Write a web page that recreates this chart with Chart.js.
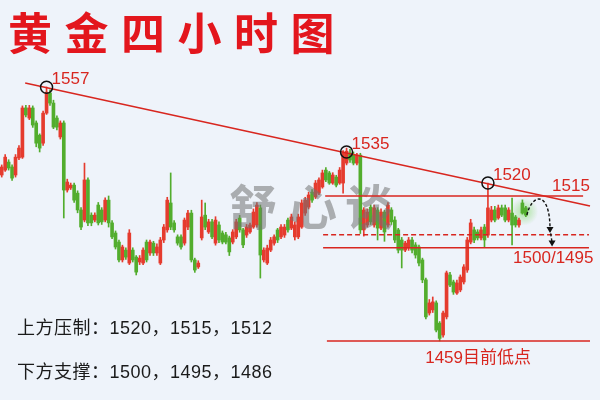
<!DOCTYPE html>
<html>
<head>
<meta charset="utf-8">
<script src="https://cdn.jsdelivr.net/npm/chart.js@4.4.1/dist/chart.umd.min.js"></script>
<style>
  html, body { margin: 0; padding: 0; background: #eef3fa; }
  #wrap { width: 600px; height: 400px; }
</style>
</head>
<body>
<div id="wrap"><canvas id="gold-chart" width="600" height="400"></canvas></div>
<script>
// 4-hour gold candles (price units)
const opens = [
  1523.1, 1525.0, 1528.1, 1526.2, 1523.1, 1529.7, 1530.0, 1549.0, 1545.1, 1549.0,
  1543.2, 1538.5, 1535.4, 1547.0, 1554.8, 1550.9, 1545.1, 1537.8, 1543.2, 1517.3,
  1518.1, 1519.2, 1516.1, 1509.6, 1505.7, 1521.2, 1507.6, 1505.7, 1511.5, 1509.6,
  1505.7, 1513.4, 1504.6, 1500.7, 1497.2, 1490.3, 1494.1, 1489.1, 1494.1, 1491.4,
  1489.5, 1489.1, 1497.2, 1493.0, 1496.8, 1493.0, 1489.1, 1498.0, 1501.9, 1512.3,
  1504.6, 1499.2, 1499.2, 1496.8, 1503.0, 1508.4, 1490.3, 1487.6, 1498.8, 1507.6,
  1501.1, 1505.0, 1496.8, 1503.8, 1500.7, 1500.0, 1498.8, 1497.2, 1499.2, 1506.5,
  1501.9, 1499.9, 1501.1, 1503.0, 1503.8, 1510.4, 1490.3, 1489.1, 1494.1, 1496.8,
  1501.9, 1499.2, 1499.9, 1505.7, 1502.6, 1499.2, 1499.2, 1503.0, 1508.4, 1510.7,
  1516.5, 1514.6, 1516.1, 1518.5, 1525.0, 1523.9, 1520.0, 1522.3, 1520.0, 1520.0,
  1527.7, 1531.6, 1530.8, 1527.7, 1530.8, 1501.9, 1503.8, 1510.7, 1503.8, 1509.6,
  1502.6, 1508.8, 1503.8, 1509.6, 1505.7, 1501.9, 1498.0, 1494.1, 1494.9, 1498.0,
  1496.1, 1495.3, 1490.3, 1482.6, 1469.8, 1471.0, 1473.7, 1465.9, 1461.3, 1468.3,
  1484.5, 1481.8, 1477.5, 1478.7, 1481.8, 1486.4, 1497.2, 1501.9, 1501.1, 1498.8,
  1503.0, 1499.9, 1505.7, 1509.6, 1506.5, 1510.4, 1510.4, 1505.7, 1508.4, 1506.9,
  1503.8, 1512.3, 1510.4
];
const closes = [
  1526.2, 1530.0, 1525.8, 1521.9, 1530.0, 1533.5, 1549.0, 1546.3, 1549.0, 1542.4,
  1535.4, 1533.5, 1547.0, 1555.1, 1550.9, 1541.6, 1541.6, 1543.2, 1517.3, 1520.4,
  1519.2, 1513.4, 1509.6, 1503.0, 1521.2, 1504.6, 1504.6, 1507.6, 1504.6, 1505.0,
  1513.4, 1504.6, 1499.2, 1495.3, 1490.3, 1495.3, 1491.4, 1500.7, 1490.3, 1485.6,
  1491.0, 1494.1, 1490.3, 1497.2, 1493.0, 1495.3, 1498.0, 1503.0, 1513.4, 1503.0,
  1501.9, 1496.8, 1495.3, 1505.7, 1508.4, 1490.3, 1486.4, 1489.1, 1506.9, 1503.0,
  1505.0, 1499.2, 1505.7, 1498.0, 1497.2, 1497.2, 1493.4, 1501.1, 1505.0, 1501.9,
  1496.1, 1503.0, 1503.8, 1508.8, 1511.5, 1492.2, 1494.1, 1494.9, 1498.0, 1499.2,
  1498.0, 1503.0, 1503.0, 1501.9, 1506.9, 1503.8, 1506.9, 1512.3, 1513.4, 1515.4,
  1513.4, 1520.0, 1521.2, 1523.9, 1521.2, 1520.0, 1523.1, 1519.2, 1525.0, 1531.6,
  1532.3, 1528.9, 1527.7, 1530.8, 1501.9, 1509.6, 1508.8, 1505.0, 1510.4, 1502.6,
  1508.8, 1501.1, 1511.5, 1505.0, 1498.0, 1494.1, 1494.1, 1496.8, 1498.0, 1494.1,
  1492.2, 1489.1, 1482.6, 1468.3, 1473.7, 1474.1, 1463.2, 1460.0, 1469.8, 1485.3,
  1480.6, 1477.9, 1481.4, 1483.7, 1487.6, 1498.0, 1504.6, 1498.0, 1498.8, 1501.9,
  1498.0, 1510.4, 1509.6, 1505.7, 1510.4, 1507.6, 1505.7, 1509.6, 1503.8, 1503.8,
  1505.7, 1508.4, 1507.6
];
const highs = [
  1527, 1531, 1529, 1527, 1531, 1534.5, 1549.8, 1550, 1550, 1549.8,
  1544, 1539, 1547.8, 1557.1, 1556, 1552, 1546, 1544, 1544, 1521.5,
  1520, 1520, 1517, 1510.5, 1527.7, 1522, 1508.5, 1508.5, 1512.5, 1510.5,
  1514.3, 1515, 1505.5, 1501.5, 1498, 1496, 1495, 1502, 1495, 1492,
  1492, 1495, 1498, 1498, 1497.5, 1496.5, 1499, 1504, 1514.5, 1523.9,
  1505.5, 1500, 1500, 1506.5, 1509.5, 1509.5, 1491, 1490, 1513.4, 1512.3,
  1506, 1506, 1507, 1505, 1501.5, 1501, 1499.5, 1502, 1506, 1507.5,
  1502.5, 1504, 1504.5, 1510, 1512.5, 1511.5, 1495, 1496, 1499, 1500,
  1502.5, 1504, 1504, 1506.5, 1508, 1505, 1508, 1513.5, 1514.5, 1516.5,
  1517.5, 1521, 1522, 1525, 1526, 1524.5, 1524, 1523, 1526, 1532.5,
  1533.5, 1533, 1532, 1531.5, 1531.5, 1510.5, 1510, 1511.5, 1511.5, 1510.5,
  1510, 1509.5, 1512.5, 1510.5, 1507, 1502.5, 1499, 1497.5, 1499, 1499,
  1497, 1496, 1491, 1483.3, 1475, 1476, 1474.5, 1466.5, 1470.5, 1486,
  1485.5, 1482.5, 1482.5, 1484.5, 1488.5, 1499, 1506, 1503, 1502, 1503,
  1504, 1520, 1511, 1511, 1511.5, 1511.5, 1511.5, 1510.5, 1514.2, 1507.5,
  1506.5, 1513.5, 1511
];
const lows = [
  1522.3, 1524.5, 1525, 1521, 1522.3, 1529, 1529.5, 1545.5, 1544.5, 1541.5,
  1534, 1532, 1534.5, 1546.5, 1550, 1541, 1540.5, 1537, 1506.5, 1516.5,
  1517.5, 1512.5, 1508.5, 1502, 1505, 1503.5, 1503.5, 1505, 1503.8, 1504,
  1505, 1503, 1498.5, 1494.5, 1489.5, 1489.5, 1490.5, 1488.5, 1489.5, 1484.5,
  1488.5, 1488.5, 1489.5, 1492, 1492, 1492, 1488.5, 1497, 1501, 1502,
  1501, 1496, 1494.5, 1496, 1502, 1489.5, 1485.5, 1487, 1498, 1502,
  1500.5, 1498.5, 1496, 1497, 1496.5, 1496.5, 1492, 1496.5, 1498.5, 1501,
  1495, 1499, 1500.5, 1502.5, 1503, 1483.3, 1489.5, 1488.5, 1493.5, 1496,
  1497, 1498.5, 1499, 1501, 1502, 1498, 1498.5, 1502.5, 1507.5, 1510,
  1512.5, 1514, 1515.5, 1518, 1520.5, 1519.5, 1519.5, 1518.5, 1519.5, 1516.1,
  1527, 1528, 1527, 1527, 1500.5, 1499.5, 1503, 1504, 1503, 1498,
  1502, 1497.5, 1503, 1504, 1497, 1493, 1487.2, 1493.5, 1494, 1493,
  1491, 1488, 1481.5, 1467.5, 1469, 1470, 1462.5, 1459.0, 1460.5, 1467.5,
  1480, 1477, 1477, 1478, 1481, 1485.5, 1496.5, 1497, 1498, 1498,
  1495.3, 1499, 1505, 1505, 1506, 1507, 1505, 1505, 1496.1, 1503,
  1503, 1508, 1507
];

// annotations (candle index / price)
const pivotIdx = [13, 100, 141];
const pivotPrice = [1557, 1532, 1520];
const pivotLabels = ['1557', '1535', '1520'];
const trendX = [6.8, 170.6];
const trendY = [1558.6, 1511.1];
const levelPrices = [1515, 1500, 1495, 1459];
const levelFrom = [93.8, 93.2, 93.2, 94.3];
const levelTo = [168.6, 170.3, 170.3, 170.6];
const levelDashed = [false, true, false, false];
const arrowX = [152.3, 159.0, 159.6];
const arrowY = [1507.6, 1500.7, 1495.5];

const titleText = '黄金四小时图';
const watermarkText = '舒心谈';
const resistText = '上方压制：1520，1515，1512';
const supportText = '下方支撑：1500，1495，1486';

const UP = '#e53b2e';
const DOWN = '#52ad2d';
const LINE_RED = '#d8261f';

const candleColors = opens.map((o, i) => closes[i] >= o ? UP : DOWN);
const bodies = opens.map((o, i) => ({ x: i, y: [o, closes[i]] }));
const wicks = lows.map((l, i) => ({ x: i, y: [l, highs[i]] }));

const overlayPlugin = {
    id: 'overlay',
    beforeDatasetsDraw(chart) {
        const ctx = chart.ctx;
        const xs = chart.scales.x, ys = chart.scales.y;
        // soft green glow behind the latest candles
        const gx = xs.getPixelForValue(151.5), gy = ys.getPixelForValue(1509);
        const g = ctx.createRadialGradient(gx, gy, 1, gx, gy, 14);
        g.addColorStop(0, 'rgba(120, 215, 90, 0.55)');
        g.addColorStop(1, 'rgba(120, 215, 90, 0)');
        ctx.save();
        ctx.fillStyle = g;
        ctx.fillRect(gx - 16, gy - 16, 32, 32);
        ctx.restore();
    },
    afterDatasetsDraw(chart) {
        const ctx = chart.ctx;
        const xs = chart.scales.x, ys = chart.scales.y;
        const px = v => xs.getPixelForValue(v);
        const py = v => ys.getPixelForValue(v);
        ctx.save();

        // watermark
        ctx.font = 'bold 48px "Noto Sans CJK SC"';
        ctx.fillStyle = 'rgba(115, 115, 115, 0.55)';
        ctx.textAlign = 'center';
        ctx.textBaseline = 'middle';
        [253, 313, 369].forEach((cx, i) => ctx.fillText(watermarkText[i], cx, 207));

        // horizontal levels
        ctx.strokeStyle = LINE_RED;
        ctx.lineWidth = 1.5;
        levelPrices.forEach((p, i) => {
            ctx.setLineDash(levelDashed[i] ? [5, 3] : []);
            ctx.beginPath();
            ctx.moveTo(px(levelFrom[i]), py(p));
            ctx.lineTo(px(levelTo[i]), py(p));
            ctx.stroke();
        });
        ctx.setLineDash([]);

        // falling trend line
        ctx.beginPath();
        ctx.moveTo(px(trendX[0]), py(trendY[0]));
        ctx.lineTo(px(trendX[1]), py(trendY[1]));
        ctx.stroke();

        // pivot circles + labels
        ctx.font = '17px "Liberation Sans", "Noto Sans CJK SC"';
        ctx.textAlign = 'left';
        ctx.textBaseline = 'alphabetic';
        pivotIdx.forEach((idx, i) => {
            const cx = px(idx), cy = py(pivotPrice[i]);
            ctx.strokeStyle = '#111';
            ctx.lineWidth = 1.5;
            ctx.beginPath();
            ctx.arc(cx, cy, 6, 0, Math.PI * 2);
            ctx.stroke();
            ctx.fillStyle = LINE_RED;
            ctx.fillText(pivotLabels[i], cx + 5, cy - 3);
        });

        // level labels
        ctx.fillStyle = LINE_RED;
        ctx.fillText('1515', px(159.6), py(1515) - 5);
        ctx.fillText('1500/1495', px(148.3), py(1495) + 15);
        ctx.fillText('1459目前低点', px(122.8), py(1459) + 22);

        // dotted arrow: up to the trend line, then down to 1500 / 1495
        const a0x = px(arrowX[0]), a0y = py(arrowY[0]);
        const a1x = px(arrowX[1]), a1y = py(arrowY[1]);
        const a2x = px(arrowX[2]), a2y = py(arrowY[2]);
        ctx.strokeStyle = '#111';
        ctx.fillStyle = '#111';
        ctx.lineWidth = 1.4;
        ctx.setLineDash([3, 2]);
        ctx.beginPath();
        ctx.moveTo(a0x, a0y);
        ctx.bezierCurveTo(a0x + 5, a0y - 22, a1x, a1y - 43, a1x, a1y - 4);
        ctx.lineTo(a2x, a2y - 4);
        ctx.stroke();
        ctx.setLineDash([]);
        [[a1x, a1y], [a2x, a2y]].forEach(([x, y]) => {
            ctx.beginPath();
            ctx.moveTo(x - 3.5, y - 6);
            ctx.lineTo(x + 3.5, y - 6);
            ctx.lineTo(x, y);
            ctx.closePath();
            ctx.fill();
        });

        // title
        ctx.font = 'bold 44px "Noto Sans CJK SC"';
        ctx.fillStyle = '#e3161d';
        ctx.textAlign = 'left';
        ctx.textBaseline = 'middle';
        for (let i = 0; i < titleText.length; i++) {
            ctx.fillText(titleText[i], 8 + i * 56.5, 33);
        }

        // support / resistance notes
        ctx.font = '18px "Liberation Sans", "Noto Sans CJK SC"';
        ctx.letterSpacing = '0.5px';
        ctx.fillStyle = '#1a1a1a';
        ctx.textBaseline = 'middle';
        ctx.fillText(resistText, 17, 329);
        ctx.fillText(supportText, 17, 373);

        ctx.restore();
    }
};

const ctx = document.getElementById('gold-chart').getContext('2d');
new Chart(ctx, {
    type: 'bar',
    data: {
        datasets: [
            {
                label: 'body',
                data: bodies,
                backgroundColor: candleColors,
                barThickness: 3,
                minBarLength: 1,
                grouped: false
            },
            {
                label: 'wick',
                data: wicks,
                backgroundColor: candleColors,
                barThickness: 1,
                grouped: false
            }
        ]
    },
    options: {
        responsive: false,
        animation: false,
        layout: { padding: 0 },
        plugins: {
            legend: { display: false },
            tooltip: { enabled: false }
        },
        scales: {
            x: { type: 'linear', offset: false, min: -0.5, max: 173.5, display: false },
            y: { min: 1436.2, max: 1590.7, display: false }
        }
    },
    plugins: [overlayPlugin]
});
</script>
</body>
</html>
